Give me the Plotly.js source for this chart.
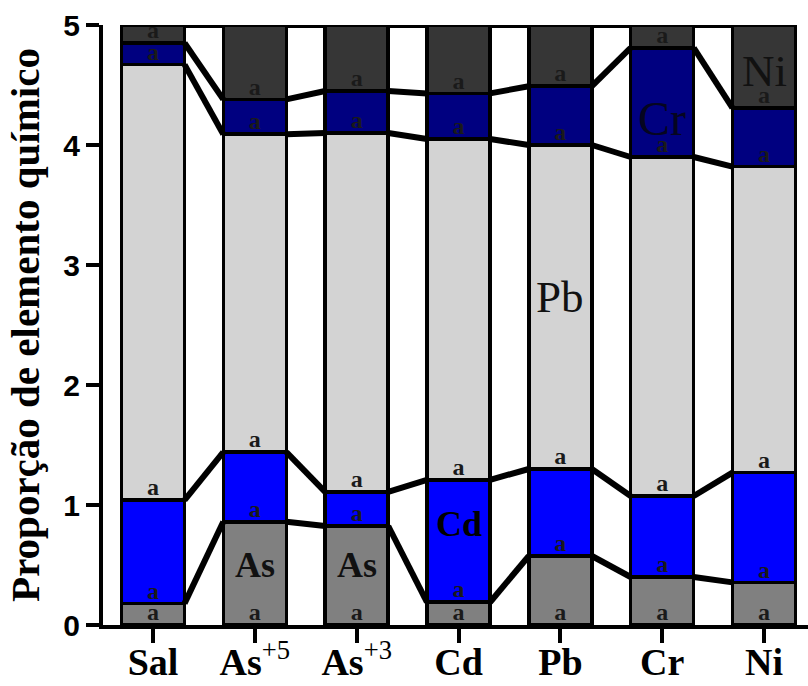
<!DOCTYPE html>
<html>
<head>
<meta charset="utf-8">
<script src="https://cdn.plot.ly/plotly-3.0.1.min.js"></script>
<style>html,body{margin:0;padding:0;background:#fff}#chart{width:808px;height:686px}</style>
</head>
<body>
<div id="chart"></div>
<script>
// ---- data ----
const categories = ["Sal", "As<sup><span style='font-weight:normal'>+5</span></sup>", "As<sup><span style='font-weight:normal'>+3</span></sup>", "Cd", "Pb", "Cr", "Ni"];
const elements = ["As", "Cd", "Pb", "Cr", "Ni"];
const asVals = [0.18, 0.86, 0.825, 0.19, 0.575, 0.40, 0.355];
const cdVals = [0.86, 0.58, 0.285, 1.02, 0.725, 0.675, 0.915];
const pbVals = [3.63, 2.65, 2.99, 2.84, 2.70, 2.825, 2.55];
const crVals = [0.18, 0.29, 0.35, 0.38, 0.49, 0.91, 0.49];
const niVals = [0.15, 0.62, 0.55, 0.57, 0.51, 0.19, 0.69];
const letters = ["a", "a", "a", "a", "a"]; // significance letters per segment
const yTicks = [0, 1, 2, 3, 4, 5];

// ---- styling ----
const colors = ["#808080", "#0000ff", "#d3d3d3", "#000080", "#363636"];
const barW = 0.62;
const series = [asVals, cdVals, pbVals, crVals, niVals];
const idx = categories.map((_, i) => i);

const traces = [];
series.forEach((vals, k) => {
  traces.push({
    type: "bar", x: idx, y: vals, width: barW, name: elements[k],
    marker: {color: colors[k], line: {color: "#000", width: 3.5}},
    hoverinfo: "skip", showlegend: false
  });
});

// cumulative levels
const cum = [];
let run = idx.map(() => 0);
series.forEach(vals => { run = run.map((r, i) => r + vals[i]); cum.push(run.slice()); });
const bases = [idx.map(() => 0)].concat(cum.slice(0, -1));

// connector lines between bars at each cumulative level
cum.forEach(level => {
  const xs = [], ys = [];
  for (let i = 0; i < idx.length - 1; i++) {
    xs.push(idx[i] + barW / 2, idx[i + 1] - barW / 2, null);
    ys.push(level[i], level[i + 1], null);
  }
  traces.push({type: "scatter", mode: "lines", x: xs, y: ys, cliponaxis: false,
    line: {color: "#000", width: 6}, hoverinfo: "skip", showlegend: false});
});

// significance letters at bottom of each segment
const lx = [], ly = [], lt = [];
bases.forEach((b, k) => idx.forEach(i => { lx.push(i); ly.push(b[i] + 0.09); lt.push(letters[k]); }));
traces.push({type: "scatter", mode: "text", x: lx, y: ly, text: lt, cliponaxis: false,
  textfont: {family: "Liberation Serif", size: 24, weight: "bold", color: "#1a1a1a"},
  hoverinfo: "skip", showlegend: false});

const serif = "Liberation Serif, Times New Roman, serif";
const big = (text, x, y, size, weight, color) => ({
  text, x, y, xref: "x", yref: "y", showarrow: false,
  font: {family: serif, size, weight, color}
});

const layout = {
  width: 808, height: 686,
  margin: {l: 103, r: 0, t: 25, b: 61},
  paper_bgcolor: "#fff", plot_bgcolor: "#fff",
  barmode: "stack",
  xaxis: {
    range: [-0.491, 6.432], tickmode: "array", tickvals: idx, ticktext: categories,
    showgrid: false, zeroline: false, showline: true, linecolor: "#000", linewidth: 4,
    ticks: "outside", ticklen: 14, tickwidth: 4, tickcolor: "#000",
    ticklabelstandoff: -14,
    tickfont: {family: serif, size: 38, weight: "bold", color: "#000"}
  },
  yaxis: {
    range: [0, 5], tickvals: yTicks, showgrid: false, zeroline: false,
    showline: true, linecolor: "#000", linewidth: 4,
    ticks: "outside", ticklen: 13, tickwidth: 4, tickcolor: "#000",
    tickfont: {family: "Liberation Sans, Arial, sans-serif", size: 30, weight: "bold", color: "#000"},
    title: {text: "Proporção de elemento químico", standoff: 12,
      font: {family: serif, size: 41, weight: "bold", color: "#000"}}
  },
  annotations: [
    big("As", 1, 0.5, 36, "bold", "#111"),
    big("As", 2, 0.5, 36, "bold", "#111"),
    big("Cd", 3, 0.84, 36, "bold", "#000"),
    big("Pb", 4, 2.73, 45, "normal", "#111"),
    big("Cr", 5, 4.22, 48, "normal", "#050520"),
    big("Ni", 6, 4.62, 45, "normal", "#111")
  ]
};

Plotly.newPlot("chart", traces, layout, {staticPlot: true, displayModeBar: false});
</script>
</body>
</html>
